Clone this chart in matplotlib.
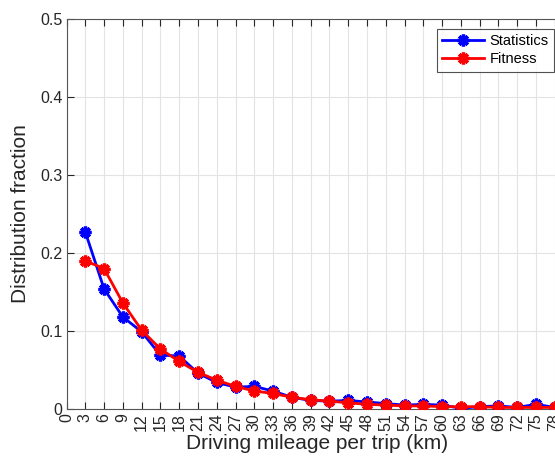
import matplotlib
matplotlib.use("Agg")
import matplotlib.pyplot as plt

plt.rcParams['font.family'] = ['Liberation Sans', 'DejaVu Sans']

mileage = [3, 6, 9, 12, 15, 18, 21, 24, 27, 30, 33, 36, 39, 42, 45, 48, 51, 54, 57, 60, 63, 66, 69, 72, 75, 78]
statistics = [0.227, 0.154, 0.118, 0.099, 0.069, 0.068, 0.046, 0.034, 0.028, 0.029, 0.023, 0.015, 0.011, 0.010,
              0.011, 0.009, 0.007, 0.005, 0.006, 0.005, 0.001, 0.003, 0.004, 0.002, 0.006, 0.002]
fitness = [0.190, 0.180, 0.136, 0.101, 0.077, 0.061, 0.047, 0.037, 0.029, 0.023, 0.020, 0.015, 0.012, 0.010,
           0.008, 0.006, 0.005, 0.004, 0.004, 0.003, 0.003, 0.003, 0.002, 0.002, 0.002, 0.002]
xticks = list(range(0, 79, 3))
yticks = [0, 0.1, 0.2, 0.3, 0.4, 0.5]

fig = plt.figure(figsize=(5.55, 4.61), dpi=100)
ax = fig.add_axes([66.5/555, 52/461, 80*6.26/555, 390/461])

asterisk = (8, 2, 0)
ax.plot(mileage, statistics, color='#0000ff', lw=2, marker=asterisk, ms=8.5, mew=2.4, label='Statistics', zorder=3)
ax.plot(mileage, fitness, color='#ff0000', lw=2, marker=asterisk, ms=8.5, mew=2.4, label='Fitness', zorder=4)

ax.set_xlim(0, 80)
ax.set_ylim(0, 0.5)
ax.set_xticks(xticks)
ax.set_xticklabels([str(t) for t in xticks], rotation=90)
ax.set_yticks(yticks)
ax.set_yticklabels(['0', '0.1', '0.2', '0.3', '0.4', '0.5'])
ax.grid(True, color='#e3e3e3', lw=0.8)
ax.set_axisbelow(True)
ax.tick_params(direction='in', length=5, width=0.8, colors='#262626', labelsize=11.5, pad=3, top=True)
for s in ax.spines.values():
    s.set_color('#555555')
    s.set_linewidth(0.8)

ax.set_xlabel('Driving mileage per trip (km)', fontsize=15, color='#262626', labelpad=2)
ax.set_ylabel('Distribution fraction', fontsize=15, color='#262626', labelpad=7)

leg = ax.legend(loc='upper right', bbox_to_anchor=((554-66.5)/(80*6.26), (409-29)/390),
                fontsize=10.5, frameon=True, fancybox=False, handlelength=2.9, borderpad=0.35,
                labelspacing=0.3, handletextpad=0.4, borderaxespad=0)
leg.get_frame().set_edgecolor('#262626')
leg.get_frame().set_linewidth(0.8)

fig.savefig('out.png', dpi=100)
